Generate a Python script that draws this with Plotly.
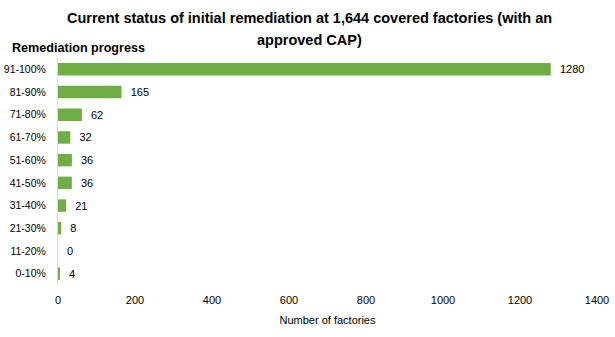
import plotly.graph_objects as go

categories = ["91-100%", "81-90%", "71-80%", "61-70%", "51-60%", "41-50%", "31-40%", "21-30%", "11-20%", "0-10%"]
values = [1280, 165, 62, 32, 36, 36, 21, 8, 0, 4]
x_ticks = [0, 200, 400, 600, 800, 1000, 1200, 1400]

FONT = "Liberation Sans"
NB = "\u00a0"

fig = go.Figure(go.Bar(
    y=categories, x=values, orientation="h",
    marker=dict(color="#70AD47", line=dict(width=0)),
    width=0.55,
    text=[NB * 2 + str(v) for v in values], textposition="outside",
    textfont=dict(family=FONT, size=11, color="#000000"),
    cliponaxis=False,
))

title_font = dict(family=FONT, size=14.5, color="#000000")
fig.update_layout(
    width=615, height=337,
    margin=dict(l=58, r=18, t=58, b=52, autoexpand=False),
    paper_bgcolor="white", plot_bgcolor="white",
    showlegend=False,
    font=dict(family=FONT, size=11, color="#000000"),
    annotations=[
        dict(text="<b>Current status of initial remediation at 1,644 covered factories (with an</b>",
             xref="paper", yref="paper", x=0.4675, y=1.176, xanchor="center", yanchor="middle",
             showarrow=False, font=title_font),
        dict(text="<b>approved CAP)</b>",
             xref="paper", yref="paper", x=0.4675, y=1.079, xanchor="center", yanchor="middle",
             showarrow=False, font=title_font),
        dict(text="<b>Remediation progress</b>", xref="paper", yref="paper",
             x=-0.089, y=1.044, xanchor="left", yanchor="middle", showarrow=False,
             font=dict(family=FONT, size=12.6, color="#000000")),
    ],
    xaxis=dict(
        range=[0, 1400], tickvals=x_ticks, showgrid=False, zeroline=False,
        showline=False, ticks="", tickfont=dict(size=11), automargin=False,
        ticklabelstandoff=7,
        title=dict(text="Number of factories", font=dict(size=11), standoff=11),
    ),
    yaxis=dict(
        categoryorder="array", categoryarray=categories[::-1],
        showline=True, linecolor="#D9D9D9", linewidth=1, showgrid=False,
        ticks="", ticklabelstandoff=9, tickfont=dict(size=10.5), automargin=False,
    ),
)

fig.write_html("out.html")
